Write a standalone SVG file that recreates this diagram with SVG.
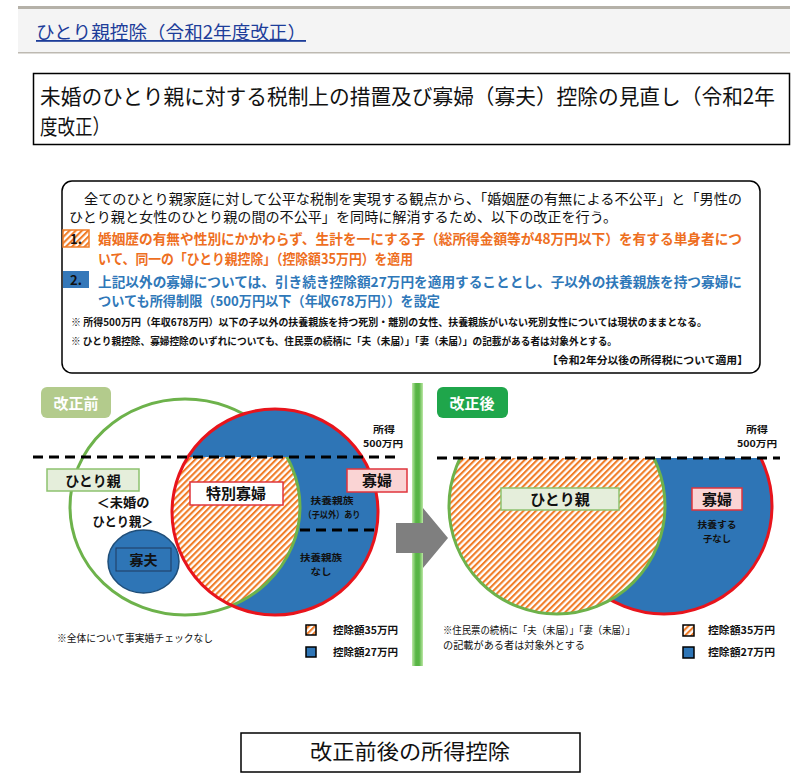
<svg xmlns="http://www.w3.org/2000/svg" width="807" height="780" viewBox="0 0 807 780">
<style>
text{font-family:"Noto Sans CJK JP","Noto Sans CJK SC",sans-serif;fill:#111}
.b{font-weight:bold}
.m{text-anchor:middle}
.e{text-anchor:end}
.s10{font-size:10.5px}
.s11{font-size:9.5px}
.s14{font-size:14px}
.s15{font-size:15px}
.org{fill:#ee6f1f}
.blu{fill:#2f78b9}
.wh{fill:#fff}
.lbg{fill:#e5eedb;stroke:#8dc26f;stroke-width:1.5}
.lbp{fill:#fad4d4;stroke:#e0353c;stroke-width:1.5}
.dash{stroke:#000;stroke-width:3;stroke-dasharray:10 6;fill:none}
.leg{stroke:#000;stroke-width:1.5}
</style>
<defs>
<pattern id="hatch" width="4.4" height="4.4" patternUnits="userSpaceOnUse" patternTransform="rotate(45)">
<rect width="4.4" height="4.4" fill="#fff"/>
<rect width="2.1" height="4.4" fill="#f07d28"/>
</pattern>
<linearGradient id="bar" x1="0" x2="1" y1="0" y2="0">
<stop offset="0" stop-color="#bde8a6"/>
<stop offset="0.35" stop-color="#58b545"/>
<stop offset="0.65" stop-color="#58b545"/>
<stop offset="1" stop-color="#bde8a6"/>
</linearGradient>
<clipPath id="cRedL"><circle cx="275" cy="512" r="103"/></clipPath>
<clipPath id="cBelowL"><rect x="0" y="457" width="807" height="300"/></clipPath>
<clipPath id="cBelowR"><rect x="430" y="458" width="377" height="300"/></clipPath>
</defs>
<rect width="807" height="780" fill="#fff"/>

<g id="header">
<rect x="18" y="9" width="772" height="43" fill="#f4f4f4"/>
<rect x="18" y="6" width="772" height="3" fill="#b5b1a8"/>
<rect x="18" y="52" width="772" height="1.5" fill="#bdb9b1"/>
<text x="36" y="39" font-size="18" style="fill:#1d3d9a" text-decoration="underline" textLength="270" lengthAdjust="spacingAndGlyphs">ひとり親控除（令和2年度改正）</text>
</g>

<g id="title">
<rect x="33.5" y="73.5" width="756" height="71" fill="#fff" stroke="#000" stroke-width="1.5"/>
<text x="40" y="104" font-size="21" textLength="735" lengthAdjust="spacingAndGlyphs">未婚のひとり親に対する税制上の措置及び寡婦（寡夫）控除の見直し（令和2年</text>
<text x="40" y="134" font-size="21" textLength="70" lengthAdjust="spacingAndGlyphs">度改正）</text>
</g>

<g id="summary">
<rect x="62" y="181" width="698" height="192" rx="10" fill="#fff" stroke="#000" stroke-width="1.5"/>
<text x="84" y="204" class="s14" textLength="658" lengthAdjust="spacingAndGlyphs">全てのひとり親家庭に対して公平な税制を実現する観点から、「婚姻歴の有無による不公平」と「男性の</text>
<text x="69" y="222" class="s14" textLength="548" lengthAdjust="spacingAndGlyphs">ひとり親と女性のひとり親の間の不公平」を同時に解消するため、以下の改正を行う。</text>
<rect x="63" y="230" width="26" height="17" fill="url(#hatch)" stroke="#f07d28" stroke-width="1.5"/>
<text x="76" y="244" class="b m" font-size="13">1.</text>
<text x="98" y="244" class="s14 b org" textLength="644" lengthAdjust="spacingAndGlyphs">婚姻歴の有無や性別にかかわらず、生計を一にする子（総所得金額等が48万円以下）を有する単身者につ</text>
<text x="98" y="264" class="s14 b org" textLength="315" lengthAdjust="spacingAndGlyphs">いて、同一の「ひとり親控除」（控除額35万円）を適用</text>
<rect x="63" y="271" width="26" height="17" fill="#3578b9"/>
<text x="76" y="285" class="b m" font-size="13">2.</text>
<text x="98" y="287" class="b blu" font-size="13.5" textLength="644" lengthAdjust="spacingAndGlyphs">上記以外の寡婦については、引き続き控除額27万円を適用することとし、子以外の扶養親族を持つ寡婦に</text>
<text x="98" y="306" class="b blu" font-size="13.5" textLength="342" lengthAdjust="spacingAndGlyphs">ついても所得制限（500万円以下（年収678万円））を設定</text>
<text x="71" y="326" class="b" font-size="10" textLength="636" lengthAdjust="spacingAndGlyphs">※ 所得500万円（年収678万円）以下の子以外の扶養親族を持つ死別・離別の女性、扶養親族がいない死別女性については現状のままとなる。</text>
<text x="71" y="345" class="b" font-size="10" textLength="546" lengthAdjust="spacingAndGlyphs">※ ひとり親控除、寡婦控除のいずれについても、住民票の続柄に「夫（未届）」「妻（未届）」の記載がある者は対象外とする。</text>
<text x="748" y="364" class="b e s10" textLength="201" lengthAdjust="spacingAndGlyphs">【令和2年分以後の所得税について適用】</text>
</g>

<g id="before">
<rect x="41" y="387" width="70" height="31" rx="6" fill="#b3cb8c"/>
<text x="76" y="409" class="b m s15 wh">改正前</text>
<ellipse cx="185" cy="507" rx="115" ry="108" fill="none" stroke="#6db24b" stroke-width="3"/>
<circle cx="275" cy="512" r="103" fill="#2e75b6"/>
<g clip-path="url(#cRedL)">
<g clip-path="url(#cBelowL)">
<ellipse cx="185" cy="507" rx="115" ry="108" fill="url(#hatch)" stroke="#6db24b" stroke-width="3"/>
</g>
</g>
<circle cx="275" cy="512" r="103" fill="none" stroke="#e8141c" stroke-width="3"/>
<line x1="33" y1="457" x2="398" y2="457" class="dash"/>
<line x1="300" y1="530" x2="377" y2="530" class="dash"/>
<text x="384" y="433" class="b m s11" textLength="22" lengthAdjust="spacingAndGlyphs">所得</text>
<text x="383" y="447" class="b m s11" textLength="40" lengthAdjust="spacingAndGlyphs">500万円</text>
<g id="node-hitorioya-before">
<rect x="47" y="469" width="92" height="22" class="lbg"/>
<text x="93" y="486" class="b m s14">ひとり親</text>
</g>
<text x="123" y="507" class="b m" font-size="13" textLength="53" lengthAdjust="spacingAndGlyphs">＜未婚の</text>
<text x="123" y="526" class="b m" font-size="13" textLength="61" lengthAdjust="spacingAndGlyphs">ひとり親＞</text>
<g id="node-kafu">
<ellipse cx="143.5" cy="561.5" rx="35.5" ry="31.5" fill="#2e75b6" stroke="#1f4e79" stroke-width="1.5"/>
<rect x="116" y="548" width="55" height="23" fill="none" stroke="#1f3a5f" stroke-width="1"/>
<text x="143.5" y="565" class="b m s14">寡夫</text>
</g>
<g id="node-tokubetsu">
<rect x="190" y="482" width="93" height="23" fill="#fff" stroke="#e0353c" stroke-width="1.5"/>
<text x="236" y="499" class="b m s15">特別寡婦</text>
</g>
<g id="node-kafu-woman-before">
<rect x="347" y="469" width="60" height="23" class="lbp"/>
<text x="377" y="486" class="b m s15">寡婦</text>
</g>
<text x="332" y="504" class="b m s11" textLength="43" lengthAdjust="spacingAndGlyphs">扶養親族</text>
<text x="332" y="518" class="b m s11" textLength="57" lengthAdjust="spacingAndGlyphs">（子以外）あり</text>
<text x="321" y="561" class="b m s11" textLength="42" lengthAdjust="spacingAndGlyphs">扶養親族</text>
<text x="321" y="575" class="b m s11" textLength="21" lengthAdjust="spacingAndGlyphs">なし</text>
<text x="57" y="642" class="s10" textLength="156" lengthAdjust="spacingAndGlyphs">※全体について事実婚チェックなし</text>
<rect x="306" y="625" width="10" height="10" fill="url(#hatch)" class="leg"/>
<text x="333" y="634" class="b s10" textLength="65" lengthAdjust="spacingAndGlyphs">控除額35万円</text>
<rect x="306" y="647" width="10" height="10" fill="#2e75b6" class="leg"/>
<text x="333" y="656" class="b s10" textLength="65" lengthAdjust="spacingAndGlyphs">控除額27万円</text>
</g>

<g id="divider">
<rect x="412" y="383" width="11" height="283" fill="url(#bar)"/>
</g>

<g id="connectors">
<polygon points="396,523 423,523 423,508 448,538 423,568 423,553 396,553" fill="#7f7f7f"/>
</g>

<g id="after">
<rect x="437" y="387" width="71" height="31" rx="6" fill="#1fa64b"/>
<text x="472" y="409" class="b m s15 wh">改正後</text>
<text x="757" y="433" class="b m s11" textLength="22" lengthAdjust="spacingAndGlyphs">所得</text>
<text x="757" y="447" class="b m s11" textLength="40" lengthAdjust="spacingAndGlyphs">500万円</text>
<g clip-path="url(#cBelowR)">
<circle cx="664" cy="506" r="108" fill="#2e75b6" stroke="#e8141c" stroke-width="3"/>
<circle cx="557" cy="506" r="108" fill="url(#hatch)" stroke="#6db24b" stroke-width="3"/>
</g>
<line x1="437" y1="458" x2="780" y2="458" class="dash"/>
<g id="node-hitorioya-after">
<rect x="501" y="488" width="118" height="22" class="lbg"/>
<text x="560" y="505" class="b m s15">ひとり親</text>
</g>
<g id="node-kafu-woman-after">
<rect x="692" y="488" width="50" height="22" class="lbp"/>
<text x="717" y="505" class="b m s15">寡婦</text>
</g>
<text x="717" y="528" class="b m s11" textLength="39" lengthAdjust="spacingAndGlyphs">扶養する</text>
<text x="717" y="542" class="b m s11" textLength="28" lengthAdjust="spacingAndGlyphs">子なし</text>
<text x="443" y="634" class="s10" textLength="192" lengthAdjust="spacingAndGlyphs">※住民票の続柄に「夫（未届）」「妻（未届）」</text>
<text x="443" y="649" class="s10" textLength="142" lengthAdjust="spacingAndGlyphs">の記載がある者は対象外とする</text>
<rect x="683" y="625" width="11" height="11" fill="url(#hatch)" class="leg"/>
<text x="708" y="634" class="b s10" textLength="67" lengthAdjust="spacingAndGlyphs">控除額35万円</text>
<rect x="683" y="647" width="11" height="11" fill="#2e75b6" class="leg"/>
<text x="708" y="656" class="b s10" textLength="67" lengthAdjust="spacingAndGlyphs">控除額27万円</text>
</g>

<g id="footer">
<rect x="241" y="733" width="339" height="39" fill="#fff" stroke="#000" stroke-width="1.5"/>
<text x="410" y="759" class="m" font-size="21" textLength="200" lengthAdjust="spacingAndGlyphs">改正前後の所得控除</text>
</g>
</svg>
